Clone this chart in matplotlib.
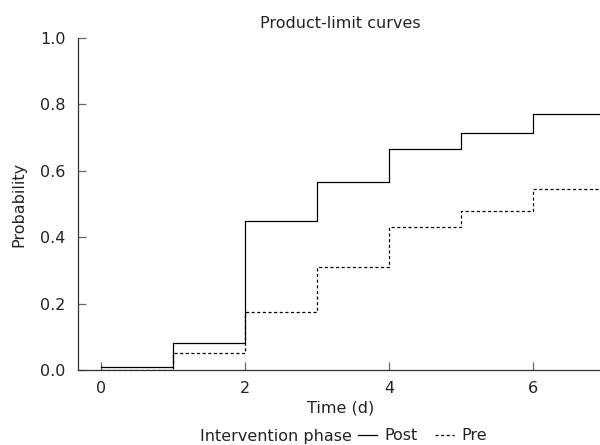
import matplotlib
matplotlib.use('Agg')
import matplotlib.pyplot as plt

# step times (days) and cumulative probabilities
times = [0, 1, 2, 3, 4, 5, 6, 7.4]
post = [0.01, 0.08, 0.45, 0.565, 0.665, 0.715, 0.77, 0.77]
pre = [0.0, 0.05, 0.175, 0.31, 0.43, 0.48, 0.545, 0.545]

x_ticks = [0, 2, 4, 6]
y_ticks = [0.0, 0.2, 0.4, 0.6, 0.8, 1.0]

fs = 11.5
plt.rcParams['font.family'] = 'DejaVu Sans'
plt.rcParams['font.size'] = fs
txt = '#222222'

fig = plt.figure(figsize=(6, 4.45), dpi=100)
ax = fig.add_axes([0.13, 0.1685, 0.875, 0.746])

l_post, = ax.step(times, post, where='post', color='black', lw=0.9, label='Post')
l_pre, = ax.step(times, pre, where='post', color='black', lw=0.9,
                 linestyle=(0, (2.5, 2)), label='Pre')

ax.set_xlim(-0.32, 6.97)
ax.set_ylim(0, 1.0)
ax.set_xticks(x_ticks)
ax.set_yticks(y_ticks)
ax.set_yticklabels([f'{v:.1f}' for v in y_ticks])
ax.tick_params(direction='in', length=6, width=0.9, colors='#666666',
               labelcolor=txt, labelsize=fs)
ax.tick_params(axis='y', pad=9)
ax.tick_params(axis='x', pad=8)
for s in ['top', 'right']:
    ax.spines[s].set_visible(False)
for s in ['left', 'bottom']:
    ax.spines[s].set_color('#333333')
    ax.spines[s].set_linewidth(0.9)

ax.set_title('Product-limit curves', color=txt, fontsize=fs, pad=7)
ax.set_xlabel('Time (d)', color=txt, labelpad=3)
ax.set_ylabel('Probability', color=txt, labelpad=10)

fig.text(352 / 600, 1 - 436 / 445, 'Intervention phase', ha='right', va='center',
         color=txt, fontsize=fs)
fig.legend(handles=[l_post, l_pre], loc='center left',
           bbox_to_anchor=(358 / 600, 1 - 436 / 445), ncol=2, frameon=False,
           handlelength=1.2, handletextpad=0.45, columnspacing=1.1,
           borderpad=0, borderaxespad=0, fontsize=fs, labelcolor=txt)

fig.savefig('out.png', dpi=100)
